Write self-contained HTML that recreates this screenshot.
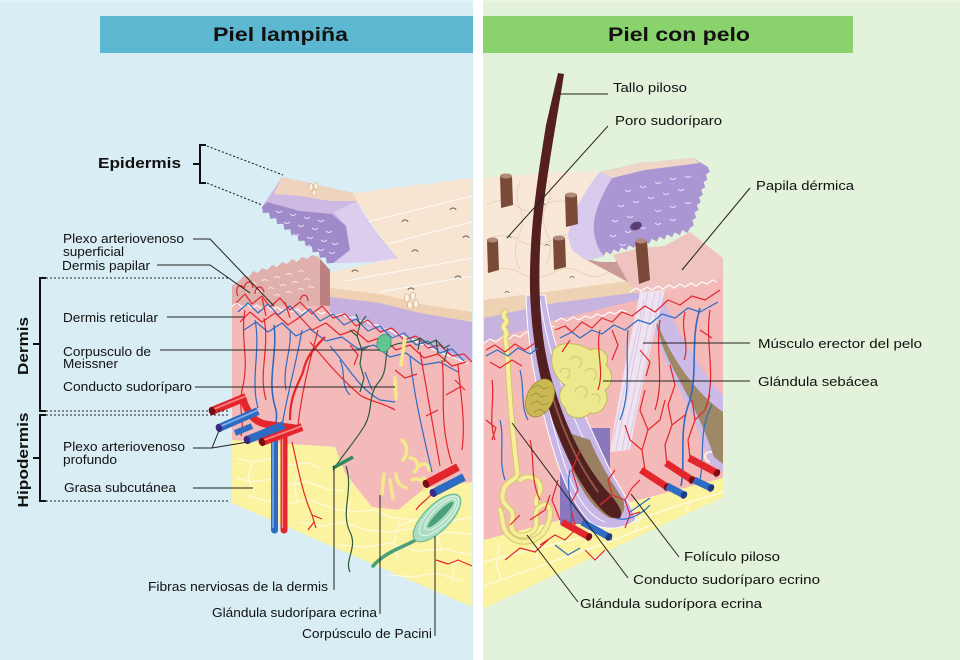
<!DOCTYPE html>
<html><head><meta charset="utf-8"><style>
html,body{margin:0;padding:0;background:#fff;}
svg{display:block}
text{font-family:"Liberation Sans",Arial,sans-serif;fill:#111}
</style></head><body>
<svg width="960" height="660" viewBox="0 0 960 660" xmlns="http://www.w3.org/2000/svg">
<rect width="960" height="660" fill="#fff"/>
<rect x="0" y="0" width="473" height="660" fill="#d8edf4"/>
<rect x="483" y="0" width="477" height="660" fill="#e3f2da"/>
<rect x="0" y="0" width="473" height="2" fill="#e4f3f8"/>
<rect x="483" y="0" width="477" height="2" fill="#ebf6e5"/>

<!-- headers -->
<rect x="100" y="16" width="373" height="37" fill="#5cb8d1"/>
<rect x="483" y="16" width="370" height="37" fill="#8ad26b"/>
<text x="213" y="41" font-size="19" font-weight="bold" textLength="135" lengthAdjust="spacingAndGlyphs">Piel lampiña</text>
<text x="608" y="41" font-size="19" font-weight="bold" textLength="142" lengthAdjust="spacingAndGlyphs">Piel con pelo</text>

<!-- ================= LEFT BLOCK ================= -->
<path d="M232,285 L330,298 L330,313 L380,330 L430,348 L472,360 L472,482 L425,488 L398,510 L372,507 L345,473 L335,447 L232,440 Z" fill="#f4b9b9"/>
<path d="M232,440 L335,447 L345,473 L372,507 L398,510 L425,488 L472,482 L472,607 L232,503 Z" fill="#fbf3a0"/>
<g fill="none" stroke="#fffbe2" stroke-width="1.3" opacity="0.9">
<path d="M236,458 l18,4 l14,-3 l18,6 l22,-2 l14,6"/>
<path d="M236,478 l16,4 l22,-3 l18,6 l14,-4 l20,8 l18,2"/>
<path d="M246,495 l20,6 l24,2 l20,-3 l22,8 l20,4 l22,-2 l20,8 l20,2"/>
<path d="M300,522 l22,4 l20,-4 l24,8 l22,2 l26,-4 l22,6"/>
<path d="M340,545 l26,2 l24,-4 l26,8 l30,-2 l24,6"/>
<path d="M390,575 l24,2 l22,-4 l26,8"/>
<path d="M252,462 l-4,16 l6,14 M300,465 l-6,20 l4,18 M350,500 l-4,20 l6,18 M400,520 l-6,22 l4,18 M440,510 l-4,22 l6,20 M455,560 l-3,22"/>
<path d="M400,525 l20,-6 l24,4 l26,-6 M425,540 l22,-8 l24,2"/>
</g>
<path d="M353,193 L472,178 L472,322 L420,313 L380,303 L330,297 L330,272 L398,258 C385,245 366,218 353,193 Z" fill="#f7e5d1"/>
<path d="M330,288 L380,294 L420,304 L472,312 L472,322 L420,314 L380,304 L330,298 Z" fill="#efd0b2"/>
<g stroke="#ffffff" stroke-width="1" opacity="0.85" fill="none">
<path d="M367,222 L472,196"/><path d="M387,244 L472,222"/><path d="M345,281 L472,258"/><path d="M380,292 L472,276"/>
</g>
<g stroke="#6a5a50" stroke-width="0.9" fill="none">
<path d="M450,210 a3,2 0 0 1 6,0"/><path d="M402,222 a3,2 0 0 1 6,0"/><path d="M463,238 a3,2 0 0 1 6,0"/><path d="M412,252 a3,2 0 0 1 6,0"/><path d="M352,272 a3,2 0 0 1 6,0"/><path d="M455,278 a3,2 0 0 1 6,0"/><path d="M408,290 a3,2 0 0 1 6,0"/>
</g>
<g fill="#fbf3e6" stroke="#d6b690" stroke-width="0.8">
<ellipse cx="407" cy="298" rx="2.5" ry="4"/><ellipse cx="413" cy="296" rx="2.5" ry="4"/><ellipse cx="410" cy="305" rx="2.5" ry="4"/><ellipse cx="416" cy="304" rx="2.5" ry="4"/>
</g>
<path d="M330,297 L380,303 L420,313 L472,322 L472,362 L452,356 L430,349 L405,340 L380,331 L355,322 L330,313 Z" fill="#c5b0e0"/>
<path d="M330,313 l6,3 l6,-2 l6,4 l6,-1 l6,4 l6,0 l6,4 l6,0 l6,4 l6,1 l6,4 l6,1 l6,4 l6,1 l6,4 l6,1 l6,4 l6,2 l6,3 l6,2 l6,3 l6,2 l6,3" fill="none" stroke="#fff" stroke-width="1.2"/>
<path d="M232,286 L240,280 L244,275 L249,277 L253,271 L258,273 L262,268 L267,270 L272,265 L277,267 L282,262 L287,264 L292,259 L297,262 L302,257 L307,259 L312,255 L318,257 L330,270 L330,306 L232,306 Z" fill="#e0b0ac"/>
<path d="M320,259 L330,270 L330,306 L320,305 Z" fill="#bd8080"/>
<g stroke="#f6e2de" stroke-width="1" fill="none">
<path d="M250,284 q3,-3 6,0 M262,281 q3,-3 6,0 M274,278 q3,-3 6,0 M286,275 q3,-3 6,0 M298,272 q3,-3 6,0 M256,292 q3,-3 6,0 M268,289 q3,-3 6,0 M280,286 q3,-3 6,0 M292,283 q3,-3 6,0 M304,280 q3,-3 6,0 M262,299 q3,-3 6,0 M274,296 q3,-3 6,0 M286,293 q3,-3 6,0 M298,290 q3,-3 6,0 M308,288 q3,-3 6,0"/>
</g>
<path d="M232,306 l5,-3 l5,4 l5,-3 l5,4 l5,-3 l5,4 l5,-3 l5,4 l5,-3 l5,4 l5,-3 l5,4 l5,-3 l5,4 l5,-3 l5,4 l5,-3 l5,3 l3,-2" fill="none" stroke="#fff" stroke-width="1.1"/>

<!-- flap -->
<path d="M282,177 L353,193 C362,215 380,240 398,258 L370,262 L333,263 L262,207 Z" fill="#cdb9e4"/>
<path d="M282,177 L353,193 L357,201 L330,201 L300,196 L274,194 Z" fill="#f0d3bd"/>
<path d="M262,207 L263,213 L269.1,212.6 L270.1,218.6 L276.2,218.2 L277.2,224.2 L283.3,223.8 L284.3,229.8 L290.4,229.4 L291.4,235.4 L297.5,235 L298.5,241 L304.6,240.6 L305.6,246.6 L311.7,246.2 L312.7,252.2 L318.8,251.8 L319.8,257.8 L325.9,257.4 L326.9,263.4 L333,263 L350,250 L346,226 L332,214 L300,211 L267,202 Z" fill="#9f8bc9"/>
<path d="M357,201 C365,220 380,242 398,258 L372,262 L334,263 L350,250 L346,226 L334,212 Z" fill="#dccdee"/>
<g stroke="#e8e0f6" stroke-width="1" fill="none">
<path d="M276,211 q3,3 6,0 M290,214 q3,3 6,0 M304,217 q3,3 6,0 M318,220 q3,3 6,0 M284,222 q3,3 6,0 M298,225 q3,3 6,0 M312,228 q3,3 6,0 M326,231 q3,3 6,0 M293,234 q3,3 6,0 M307,237 q3,3 6,0 M321,240 q3,3 6,0 M304,245 q3,3 6,0 M318,249 q3,3 6,0 M332,243 q3,3 6,0 M329,252 q3,3 6,0"/>
</g>
<g fill="#fbf3e6" stroke="#d6b690" stroke-width="0.7"><ellipse cx="311" cy="187" rx="2" ry="3.5"/><ellipse cx="316" cy="186" rx="2" ry="3.5"/><ellipse cx="314" cy="193" rx="2" ry="3"/></g>

<!-- left vessels -->
<g fill="none" stroke-width="1.2" stroke-linejoin="round">
<path stroke="#e3262c" d="M236,303 L245,294 L252,304 L262,296 L270,307 L280,298 L290,310 L300,302 L312,314 L322,306 L333,318 L345,314 L356,326 L368,320 L380,332 L392,328 L404,340 L416,336 L428,348 L440,345 L452,356 L464,354 L472,362"/>
<path stroke="#2e6cc3" d="M238,312 L248,303 L258,313 L268,304 L278,315 L290,306 L300,317 L310,309 L320,321 L333,314 L344,325 L356,319 L368,331 L380,326 L392,338 L404,333 L416,345 L428,341 L440,353 L452,349 L464,361"/>
<path stroke="#e3262c" d="M240,322 L250,312 L262,322 L275,313 L288,325 L300,317 L312,330 L326,323 L340,335 L354,330 L368,342 L382,337 L396,350 L410,345 L424,358 L438,354 L452,366 L466,362"/>
<path stroke="#2e6cc3" d="M244,330 L256,322 L268,332 L282,323 L296,336 L310,329 L326,341 L342,337 L358,349 L374,345 L390,357 L406,353 L422,365 L440,362 L458,372"/>
<path stroke="#e3262c" d="M238,296 c-4,-8 2,-14 6,-8 c2,-8 8,-8 9,0 M255,294 c0,-8 7,-10 9,-2 M300,300 c2,-7 8,-6 8,1"/>
<path stroke="#e3262c" d="M245,310 C240,340 250,360 242,390 C238,410 245,420 241,436"/>
<path stroke="#e3262c" d="M264,318 C270,350 258,372 266,400"/>
<path stroke="#e3262c" stroke-width="2.2" d="M325,337 C312,350 306,358 303,372 C298,385 290,395 290,420"/>
<path stroke="#e3262c" d="M318,330 C310,360 302,390 298,425"/>
<path stroke="#2e6cc3" d="M255,320 C261,350 250,380 258,408"/>
<path stroke="#2e6cc3" stroke-width="1.6" d="M274,325 C278,355 266,380 276,410 C278,420 274,428 276,434"/>
<path stroke="#2e6cc3" d="M302,330 C297,360 288,390 282,426"/>
<path stroke="#2e6cc3" d="M290,330 C292,350 282,368 286,390"/>
<path stroke="#e3262c" d="M310,342 C325,360 340,378 360,395 C370,402 382,402 395,410"/>
<path stroke="#2e6cc3" d="M330,346 C348,366 358,388 380,400 L395,402"/>
<path stroke="#e3262c" d="M420,352 C425,382 432,420 440,466"/>
<path stroke="#e3262c" d="M442,360 C446,392 438,420 452,464 M446,395 l14,-8 M438,410 l-12,6"/>
<path stroke="#2e6cc3" d="M410,356 C413,390 422,430 432,472"/>
<path stroke="#e3262c" d="M458,364 C460,392 466,420 462,450"/>
<path stroke="#e3262c" d="M292,442 C298,468 302,492 312,515 L316,528 M312,515 l10,4 M314,522 l-6,8"/>
<path stroke="#e3262c" d="M432,493 C428,500 420,503 416,510 M436,560 l12,4 l10,-4 l14,6"/>
<path stroke="#e3262c" d="M262,298 L266,316 M285,302 L290,318"/>
<path stroke="#2e6cc3" d="M340,360 C346,372 340,385 350,395 M365,372 L372,390"/>
<path stroke="#e3262c" d="M350,345 l8,10 l-4,10 M395,370 l10,8 l12,-4 M455,380 l10,10"/>
</g>
<g fill="none" stroke="#2d5a3c" stroke-width="1.2">
<path d="M333,470 C345,452 356,440 365,425 C373,410 368,395 378,383 C388,372 384,360 388,348"/>
<path d="M346,466 C354,490 340,512 350,532 C358,548 344,560 350,572"/>
<path d="M356,314 l4,10 l-3,12 l5,14 l-2,14 l4,14 l-4,14 M360,324 l6,-8 M357,336 l-7,-6 M362,350 l7,-4"/>
<path d="M388,348 C400,340 410,345 420,338 l8,6 l8,-4 l8,8 l6,-3 M420,338 l-2,12 M436,340 l2,14 M448,348 l-4,14"/>
</g>
<ellipse cx="384" cy="343" rx="7" ry="9" fill="#62c48e" stroke="#3f9c6a" stroke-width="0.8" transform="rotate(15 384 343)"/>
<g fill="none" stroke="#f4e98c" stroke-width="3.5" stroke-linecap="round">
<path d="M405,338 L401,365"/><path d="M395,378 L396,398"/>
<path d="M402,440 c6,5 6,14 1,20"/><path d="M410,458 c8,0 10,10 4,14"/><path d="M419,466 c4,-4 10,-2 10,4"/><path d="M396,474 c0,8 5,12 10,14"/><path d="M412,480 c6,-3 10,0 12,5"/><path d="M390,480 l3,18"/><path d="M384,474 l-2,20"/><path d="M424,478 c3,3 3,8 0,12"/>
</g>
<path d="M433,527 C420,540 405,545 395,550 C385,555 378,560 373,566" fill="none" stroke="#4aa07a" stroke-width="3.5" stroke-linecap="round"/>
<g transform="rotate(-45 437 518)">
<ellipse cx="437" cy="518" rx="31" ry="13" fill="#a9dcc0" stroke="#5fb88a" stroke-width="1"/>
<ellipse cx="440" cy="518" rx="26" ry="10" fill="none" stroke="#e6f6ec" stroke-width="1"/>
<ellipse cx="442" cy="518" rx="21" ry="7" fill="none" stroke="#e6f6ec" stroke-width="1"/>
<ellipse cx="442" cy="518" rx="18" ry="3.5" fill="#4aa07a"/>
</g>
<line x1="333" y1="468" x2="353" y2="457" stroke="#2e8a5c" stroke-width="3.5"/>

<g stroke-linecap="butt">
<path d="M243,400 C248,412 252,421 265,424 L295,428" fill="none" stroke="#e3262c" stroke-width="7"/>
<line x1="212" y1="411" x2="246" y2="397" stroke="#e3262c" stroke-width="8"/>
<line x1="214" y1="409" x2="246" y2="396" stroke="#ff8a8a" stroke-width="1.5"/>
<ellipse cx="212" cy="411" rx="3.2" ry="4.2" fill="#7d0c12" transform="rotate(-22 212 411)"/>
<line x1="219" y1="428" x2="258" y2="411" stroke="#2e6cc3" stroke-width="8"/>
<line x1="221" y1="426" x2="258" y2="410" stroke="#8ab6ee" stroke-width="1.5"/>
<ellipse cx="219" cy="428" rx="3.2" ry="4.2" fill="#3a2a8a" transform="rotate(-22 219 428)"/>
<line x1="235" y1="433" x2="252" y2="426" stroke="#2e6cc3" stroke-width="6"/>
<line x1="274.5" y1="430" x2="274.5" y2="530" stroke="#2e6cc3" stroke-width="7" stroke-linecap="round"/>
<line x1="273" y1="432" x2="273" y2="528" stroke="#8ab6ee" stroke-width="1.3"/>
<line x1="284" y1="430" x2="284" y2="530" stroke="#e3262c" stroke-width="7" stroke-linecap="round"/>
<line x1="282.5" y1="432" x2="282.5" y2="528" stroke="#ff8a8a" stroke-width="1.3"/>
<line x1="247" y1="440" x2="284" y2="425" stroke="#2e6cc3" stroke-width="8"/>
<ellipse cx="247" cy="440" rx="3.2" ry="4.2" fill="#3a2a8a" transform="rotate(-22 247 440)"/>
<line x1="262" y1="442" x2="302" y2="427" stroke="#e3262c" stroke-width="8"/>
<line x1="264" y1="440" x2="302" y2="426" stroke="#ff8a8a" stroke-width="1.5"/>
<ellipse cx="262" cy="442" rx="3.2" ry="4.2" fill="#7d0c12" transform="rotate(-22 262 442)"/>
<line x1="426" y1="484" x2="458" y2="467" stroke="#e3262c" stroke-width="8"/>
<ellipse cx="426" cy="484" rx="3.2" ry="4.2" fill="#7d0c12" transform="rotate(-28 426 484)"/>
<line x1="433" y1="493" x2="464" y2="477" stroke="#2e6cc3" stroke-width="8"/>
<ellipse cx="433" cy="493" rx="3.2" ry="4.2" fill="#3a2a8a" transform="rotate(-28 433 493)"/>
</g>

<!-- ================= RIGHT BLOCK ================= -->
<path d="M484,340 L555,318 L640,296 L690,285 L723,276 L723,478 L484,540 Z" fill="#f4b9b9"/>
<path d="M484,540 L723,478 L723,497 L484,608 Z" fill="#fbf3a0"/>
<g fill="none" stroke="#fffbe2" stroke-width="1.3">
<path d="M484,562 L530,550 L580,538 L630,522 L680,505 L723,492"/>
<path d="M484,586 L540,566 L600,545 L660,522"/>
<path d="M500,545 l-4,18 l6,18 M540,540 l-4,20 M590,528 l-5,18 M640,515 l-4,16 M690,500 l-4,12"/>
</g>
<path d="M484,178 L560,172 L600,172 L590,185 L575,210 L568,235 L572,250 L583,258 L600,262 L615,262 L628,282 L484,302 Z" fill="#f9e8d7"/>
<path d="M484,300 L628,281 L640,292 L555,304 L484,318 Z" fill="#eed2b4"/>
<path d="M484,318 L555,303 L640,292 L645,298 L555,320 L484,343 Z" fill="#c6b3e0"/>
<path d="M484,343 l6,-4 l6,3 l6,-5 l6,3 l6,-5 l6,2 l6,-5 l6,2 l6,-5 l6,2 l6,-5 l5,1" fill="none" stroke="#fff" stroke-width="1.1"/>
<g fill="none" stroke="#ead2bd" stroke-width="1">
<path d="M486,205 q18,-10 32,2 q14,10 30,-4 q16,-6 30,6"/>
<path d="M486,240 q20,-10 36,2 q16,8 32,-4 q14,-8 26,4"/>
<path d="M486,272 q20,-8 36,2 q16,8 32,-2 q16,-8 30,2 q14,6 24,-2"/>
<path d="M520,182 q-6,14 0,26 q6,14 -2,30 q-6,16 2,32"/>
<path d="M590,200 q-8,14 -4,30 M548,180 q6,14 -2,26 q-6,14 2,30 q6,14 -2,28"/>
</g>
<g fill="none" stroke="#666" stroke-width="0.8"><path d="M507,238 a2,1.5 0 0 1 4,0"/><path d="M541,205 a2,1.5 0 0 1 4,0"/><path d="M545,246 a2,1.5 0 0 1 4,0"/><path d="M570,278 a2,1.5 0 0 1 4,0"/><path d="M505,293 a2,1.5 0 0 1 4,0"/></g>
<path d="M583,258 L600,262 L615,262 L632,250 L640,280 L628,282 Z" fill="#c99a98"/>
<path d="M613,255 L640,248 L665,246 L690,232 L700,240 L723,258 L723,278 L690,286 L640,296 L628,282 Z" fill="#efc3bf"/>
<path d="M630,292 l6,-4 l5,3 l6,-4 l5,3 l6,-4 l5,3 l6,-4 l5,3 l6,-4 l5,3 l6,-4 l5,3 l6,-4 l5,2 l6,-4 l4,2" fill="none" stroke="#fff" stroke-width="1.1"/>
<path d="M555,322 l6,-4 l6,3 l6,-4 l6,3 l6,-4 l6,2 l6,-4 l6,2 l6,-4 l6,2 l6,-4 l6,2" fill="none" stroke="#fff" stroke-width="1.1"/>
<path d="M600,172 L640,163 L693,158 L708,167 L709.7,171.9 L705.75,174.6 L707.4,179.5 L703.5,182.2 L705.2,187.1 L701.25,189.8 L702.9,194.7 L699,197.4 L700.7,202.3 L696.75,205 L698.4,209.9 L694.5,212.6 L696.2,217.5 L692.25,220.2 L693.9,225.1 L690,228 L687.3,233 L682.4,230.1 L679.7,235.1 L674.7,232.3 L672,237.3 L667.1,234.4 L664.4,239.4 L659.4,236.6 L656.7,241.6 L651.8,238.7 L649.1,243.7 L644.2,240.8 L641.5,245.8 L636.5,243 L633.8,248 L628.9,245.1 L626.2,250.1 L621.2,247.3 L618.5,252.3 L613.6,249.4 L610.9,254.4 L606,251.5 L603.3,256.5 L598.3,253.7 L595.6,258.7 L590.7,255.8 L588,260.8 L583,258 L572,250 L568,235 L575,210 L590,185 Z" fill="#ab96d4"/>
<path d="M600,172 L640,163 L693,158 L700,163 L645,170 L612,178 Z" fill="#efd6c6"/>
<path d="M600,172 L612,178 C602,195 592,215 594,232 C596,245 600,252 604,256 L588,260.8 L583,258 L572,250 L568,235 L575,210 L590,185 Z" fill="#d9cbee"/>
<g stroke="#e8e0f6" stroke-width="1" fill="none">
<path d="M625,190 q3,3 6,0 M640,186 q3,3 6,0 M655,182 q3,3 6,0 M670,178 q3,3 6,0 M685,176 q3,3 6,0 M618,205 q3,3 6,0 M633,201 q3,3 6,0 M648,197 q3,3 6,0 M663,193 q3,3 6,0 M678,189 q3,3 6,0 M612,220 q3,3 6,0 M627,216 q3,3 6,0 M655,210 q3,3 6,0 M670,206 q3,3 6,0 M685,202 q3,3 6,0 M610,235 q3,3 6,0 M625,231 q3,3 6,0 M640,227 q3,3 6,0 M655,223 q3,3 6,0 M670,219 q3,3 6,0 M620,244 q3,3 6,0 M635,240 q3,3 6,0"/>
</g>
<ellipse cx="636" cy="226" rx="6" ry="4" fill="#5a3f72" transform="rotate(-20 636 226)"/>
<g>
<path d="M500,176 L512,176 L513,205 L501,208 Z" fill="#7a4a38"/><ellipse cx="506" cy="176" rx="6" ry="2.5" fill="#b08a78"/>
<path d="M565,195 L577,195 L578,224 L566,227 Z" fill="#7a4a38"/><ellipse cx="571" cy="195" rx="6" ry="2.5" fill="#b08a78"/>
<path d="M487,240 L498,240 L499,270 L488,273 Z" fill="#7a4a38"/><ellipse cx="492.5" cy="240" rx="5.5" ry="2.5" fill="#b08a78"/>
<path d="M553,238 L565,238 L566,267 L554,270 Z" fill="#7a4a38"/><ellipse cx="559" cy="238" rx="6" ry="2.5" fill="#b08a78"/>
<path d="M635,241 L647,241 L650,280 L639,284 Z" fill="#7a4a38"/><ellipse cx="641" cy="241" rx="6" ry="2.5" fill="#b08a78"/>
</g>

<!-- right follicle (olive) -->
<path d="M645,298 L662,298 C680,335 700,372 723,395 L723,472 L710,464 C700,430 686,402 672,375 C660,350 652,325 645,298 Z" fill="#cbbbe6"/>
<path d="M655,318 C670,355 692,390 723,412 L723,464 L714,457 C705,428 690,400 676,374 C664,352 658,336 655,318 Z" fill="#9e8866"/>
<path d="M710,462 c-8,-2 -6,-12 2,-10" fill="none" stroke="#fff" stroke-width="1.5"/>
<path d="M640,292 L665,290 C655,330 642,380 630,450 L610,452 C618,400 630,340 640,292 Z" fill="#efe3f2"/>
<g stroke="#d4c3e0" stroke-width="0.8" fill="none"><path d="M648,292 L616,450 M655,292 L622,450 M661,292 L627,450 M644,300 L613,440"/></g>

<g fill="none" stroke-linecap="round" stroke-linejoin="round">
<path d="M505,312 c-5,4 5,8 0,12 c-5,4 5,8 0,12 L507,350 C509,390 512,430 517,470 C520,482 506,478 503,492 C499,508 516,506 512,520 C508,534 522,540 532,532 C542,524 530,512 541,506 C552,500 552,518 546,528 C540,540 524,546 512,538 C500,530 504,518 500,510" stroke="#d6c76a" stroke-width="6"/>
<path d="M505,312 c-5,4 5,8 0,12 c-5,4 5,8 0,12 L507,350 C509,390 512,430 517,470 C520,482 506,478 503,492 C499,508 516,506 512,520 C508,534 522,540 532,532 C542,524 530,512 541,506 C552,500 552,518 546,528 C540,540 524,546 512,538 C500,530 504,518 500,510" stroke="#f6ee9c" stroke-width="4"/>
<path d="M520,480 c8,-6 18,-2 20,6 c2,8 -6,12 -4,18" stroke="#d6c76a" stroke-width="6"/>
<path d="M520,480 c8,-6 18,-2 20,6 c2,8 -6,12 -4,18" stroke="#f6ee9c" stroke-width="4"/>
</g>

<rect x="560" y="428" width="50" height="96" fill="#8a78bd"/>
<path d="M526,295 C527,340 534,380 545,420 C555,460 568,500 590,522 C600,530 622,531 636,520 C632,505 622,492 610,470 C598,445 585,415 570,385 C560,360 550,330 545,295 Z" fill="#c7b6e6" stroke="#fff" stroke-width="1"/>
<path d="M532,310 C535,350 545,400 560,450 C572,490 585,515 605,522" fill="none" stroke="#fff" stroke-width="0.9"/>
<path d="M540,300 C546,340 558,380 575,420 C590,455 605,480 625,505" fill="none" stroke="#fff" stroke-width="0.9"/>
<path d="M560,430 C570,470 585,505 610,518 C622,520 628,508 622,498 C610,480 598,460 590,440 Z" fill="#9a8060"/>
<path d="M558,73 L564,74 C557,120 546,175 541,230 C537,290 540,345 555,390 C567,430 585,465 606,490 C618,503 624,512 620,518 C612,520 606,514 600,508 C582,488 568,462 556,430 C543,395 532,350 530,290 C529,230 538,175 546,125 Z" fill="#54201f"/>
<path d="M548,380 C558,420 575,460 598,492" fill="none" stroke="#8a5848" stroke-width="2"/>
<path d="M553,350 C560,340 580,343 590,350 C600,345 612,355 606,365 C614,372 613,385 605,390 C611,400 603,416 590,413 C582,421 567,419 565,408 C557,400 559,390 565,385 C555,378 549,365 553,350 Z" fill="#ebe88e" stroke="#c2ba5a" stroke-width="1"/>
<g fill="none" stroke="#cbc36c" stroke-width="0.8"><path d="M570,360 a6,6 0 1 1 8,8 M585,372 a6,6 0 1 1 8,8 M575,392 a6,6 0 1 1 8,6 M592,395 a5,5 0 1 1 6,8 M560,372 a5,5 0 1 1 6,6"/></g>
<ellipse cx="540" cy="398" rx="13" ry="20" fill="#c9b853" stroke="#9a8a34" stroke-width="0.8" transform="rotate(25 540 398)"/>
<g stroke="#8f7f2e" stroke-width="0.6" fill="none"><path d="M532,388 l6,-3 l6,4 l5,-2 M530,396 l6,-3 l6,4 l6,-2 M531,404 l6,-3 l6,4 l6,-2 M534,412 l6,-3 l6,4"/></g>

<g fill="none" stroke-width="1.2" stroke-linejoin="round">
<path stroke="#e3262c" d="M555,330 L565,326 L572,332 L582,322 L592,328 L602,318 L612,322 L622,312 L632,316 L645,306 L655,312 L668,300 L680,305 L692,296 L705,300 L720,290"/>
<path stroke="#2e6cc3" d="M560,338 L572,332 L580,338 L592,330 L602,334 L614,325 L625,330 L638,320 L650,324 L662,314 L675,318 L688,308 L700,312 L718,302"/>
<path stroke="#e3262c" d="M600,330 C595,350 605,370 598,390 M660,320 C655,350 665,380 655,410 M710,310 C705,340 715,370 708,400 M685,312 C680,330 690,345 684,360"/>
<path stroke="#2e6cc3" stroke-width="1.6" d="M681,486 C686,460 678,430 690,400 C698,370 690,340 700,308"/>
<path stroke="#2e6cc3" d="M628,330 C625,360 632,390 620,420 M700,480 C705,455 698,430 712,405"/>
<path stroke="#e3262c" d="M645,470 L642,450 L648,430 L640,410 L645,390 M642,450 L630,440 L625,425 M648,430 L660,420 L665,400"/>
<path stroke="#e3262c" d="M667,465 L665,445 L672,425 L668,405 L675,385 L670,365 M672,425 L685,415"/>
<path stroke="#e3262c" d="M690,458 L688,440 L695,420 L692,400 M695,420 L705,410 L710,395"/>
<path stroke="#e3262c" d="M600,505 L612,495 L625,500 L632,488 L640,480 M612,495 L608,480 L615,470 M625,500 L630,515 L640,512 M630,515 L625,528"/>
<path stroke="#e3262c" d="M575,525 L570,505 L578,490 L572,470 L580,450 M560,520 L552,500 L558,480"/>
<path stroke="#e3262c" d="M540,545 L555,535 L565,540 L575,530 M505,560 L520,548 L535,552 L548,540 M530,520 L545,510 L550,495 M510,525 L520,515 M585,550 L595,560 L605,550"/>
<path stroke="#2e6cc3" d="M570,470 C565,490 575,510 570,528 M615,518 C625,522 640,516 650,505 M555,545 L568,555 L580,548 M600,530 L612,540 M630,512 L650,498"/>
<path stroke="#e3262c" d="M486,350 L495,345 L505,352 L515,344 L525,350 L535,343"/>
<path stroke="#2e6cc3" d="M486,356 L497,350 L508,356 L518,348 L530,354 L538,348"/>
<path stroke="#e3262c" d="M490,362 L500,368 L512,360 L522,366 M492,380 C495,400 488,420 495,440 M530,440 C535,460 530,480 540,500 M486,420 l10,8 l-4,12"/>
<path stroke="#2e6cc3" d="M500,420 C505,440 498,460 505,480 M520,370 C525,390 520,405 528,420"/>
<path stroke="#e3262c" d="M612,330 L618,345 L612,360 M570,340 L562,352 M640,350 l10,12 l-4,14 M700,330 l12,8"/>
</g>
<g>
<line x1="562" y1="522" x2="589" y2="537" stroke="#e3262c" stroke-width="7"/><ellipse cx="589" cy="537" rx="3" ry="4" fill="#7d0c12" transform="rotate(30 589 537)"/>
<line x1="582" y1="522" x2="609" y2="537" stroke="#2e6cc3" stroke-width="7"/><ellipse cx="609" cy="537" rx="3" ry="4" fill="#1e3c86" transform="rotate(30 609 537)"/>
<line x1="641" y1="470" x2="667" y2="487" stroke="#e3262c" stroke-width="7"/><ellipse cx="667" cy="487" rx="3" ry="4" fill="#7d0c12" transform="rotate(30 667 487)"/>
<line x1="667" y1="486" x2="684" y2="495" stroke="#2e6cc3" stroke-width="7"/><ellipse cx="684" cy="495" rx="3" ry="4" fill="#1e3c86" transform="rotate(30 684 495)"/>
<line x1="666" y1="463" x2="692" y2="480" stroke="#e3262c" stroke-width="7"/><ellipse cx="692" cy="480" rx="3" ry="4" fill="#7d0c12" transform="rotate(30 692 480)"/>
<line x1="694" y1="480" x2="711" y2="488" stroke="#2e6cc3" stroke-width="7"/><ellipse cx="711" cy="488" rx="3" ry="4" fill="#1e3c86" transform="rotate(30 711 488)"/>
<line x1="689" y1="458" x2="717" y2="473" stroke="#e3262c" stroke-width="7"/><ellipse cx="717" cy="473" rx="3" ry="4" fill="#7d0c12" transform="rotate(30 717 473)"/>
</g>

<!-- ================= LABELS & LEADERS ================= -->
<g stroke="#111" stroke-width="2" fill="none">
<path d="M206,145 L200,145 L200,183 L206,183 M193,164 L200,164"/>
<path d="M46,278 L40,278 L40,411 L46,411 M33,344 L40,344"/>
<path d="M46,415 L40,415 L40,501 L46,501 M33,458 L40,458"/>
</g>
<g stroke="#222" stroke-width="1.1" fill="none" stroke-dasharray="2,2">
<path d="M207,146 L283,175"/><path d="M207,183 L262,205"/>
<path d="M46,278 L228,278"/><path d="M46,411 L228,411"/><path d="M46,415 L228,415"/><path d="M46,501 L228,501"/>
</g>
<g stroke="#222" stroke-width="1" fill="none">
<path d="M193,239 L210,239 L274,306"/>
<path d="M157,265 L210,265 L250,293"/>
<path d="M167,317 L244,317"/>
<path d="M160,350 L380,350"/>
<path d="M195,387 L395,387"/>
<path d="M193,448 L212,448 L220,428 M212,448 L248,442"/>
<path d="M193,488 L253,488"/>
<path d="M334,590 L334,466"/>
<path d="M380,614 L380,495"/>
<path d="M435,636 L435,536"/>
<path d="M557,94 L608,94"/>
<path d="M608,126 L507,238"/>
<path d="M750,188 L682,270"/>
<path d="M643,343 L750,343"/>
<path d="M603,381 L750,381"/>
<path d="M679,557 L631,494"/>
<path d="M628,578 L512,423"/>
<path d="M578,602 L527,535"/>
</g>

<text x="98" y="168" font-size="15" font-weight="bold" textLength="83" lengthAdjust="spacingAndGlyphs">Epidermis</text>
<text font-size="15" font-weight="bold" transform="translate(28,346) rotate(-90)" text-anchor="middle" textLength="58" lengthAdjust="spacingAndGlyphs">Dermis</text>
<text font-size="15" font-weight="bold" transform="translate(28,460) rotate(-90)" text-anchor="middle" textLength="95" lengthAdjust="spacingAndGlyphs">Hipodermis</text>

<g font-size="13">
<text x="63" y="243" textLength="121" lengthAdjust="spacingAndGlyphs">Plexo arteriovenoso</text>
<text x="63" y="256" textLength="61" lengthAdjust="spacingAndGlyphs">superficial</text>
<text x="62" y="270" textLength="88" lengthAdjust="spacingAndGlyphs">Dermis papilar</text>
<text x="63" y="322" textLength="95" lengthAdjust="spacingAndGlyphs">Dermis reticular</text>
<text x="63" y="356" textLength="88" lengthAdjust="spacingAndGlyphs">Corpusculo de</text>
<text x="63" y="368" textLength="55" lengthAdjust="spacingAndGlyphs">Meissner</text>
<text x="63" y="391" textLength="129" lengthAdjust="spacingAndGlyphs">Conducto sudoríparo</text>
<text x="63" y="451" textLength="122" lengthAdjust="spacingAndGlyphs">Plexo arteriovenoso</text>
<text x="63" y="464" textLength="54" lengthAdjust="spacingAndGlyphs">profundo</text>
<text x="64" y="492" textLength="112" lengthAdjust="spacingAndGlyphs">Grasa subcutánea</text>
<text x="148" y="591" textLength="180" lengthAdjust="spacingAndGlyphs">Fibras nerviosas de la dermis</text>
<text x="212" y="617" textLength="165" lengthAdjust="spacingAndGlyphs">Glándula sudorípara ecrina</text>
<text x="302" y="638" textLength="130" lengthAdjust="spacingAndGlyphs">Corpúsculo de Pacini</text>
<text x="613" y="92" textLength="74" lengthAdjust="spacingAndGlyphs">Tallo piloso</text>
<text x="615" y="125" textLength="107" lengthAdjust="spacingAndGlyphs">Poro sudoríparo</text>
<text x="756" y="190" textLength="98" lengthAdjust="spacingAndGlyphs">Papila dérmica</text>
<text x="758" y="348" textLength="164" lengthAdjust="spacingAndGlyphs">Músculo erector del pelo</text>
<text x="758" y="386" textLength="120" lengthAdjust="spacingAndGlyphs">Glándula sebácea</text>
<text x="684" y="561" textLength="96" lengthAdjust="spacingAndGlyphs">Folículo piloso</text>
<text x="633" y="584" textLength="187" lengthAdjust="spacingAndGlyphs">Conducto sudoríparo ecrino</text>
<text x="580" y="608" textLength="182" lengthAdjust="spacingAndGlyphs">Glándula sudorípora ecrina</text>
</g>

<rect x="473" y="0" width="10" height="660" fill="#ffffff"/>
</svg>
</body></html>
